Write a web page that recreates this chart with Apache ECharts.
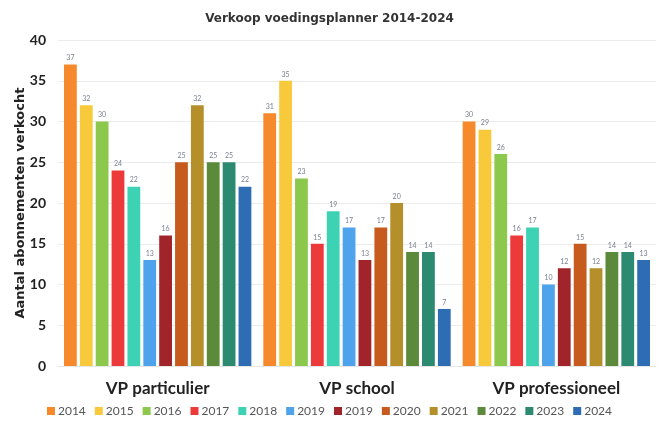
<!DOCTYPE html>
<html>
<head>
<meta charset="utf-8">
<script src="https://cdn.jsdelivr.net/npm/echarts@6/dist/echarts.min.js"></script>
<style>
  html, body { margin: 0; padding: 0; background: #fff; }
  #chart { width: 659px; height: 426px; }
</style>
</head>
<body>
<div id="chart"></div>
<script>
// categorieen en jaren
var categories = ['VP particulier', 'VP school', 'VP professioneel'];
var years = ['2014', '2015', '2016', '2017', '2018', '2019', '2019', '2020', '2021', '2022', '2023', '2024'];

// aantallen per jaar (particulier, school, professioneel)
var v2014 = [37, 31, 30];
var v2015 = [32, 35, 29];
var v2016 = [30, 23, 26];
var v2017 = [24, 15, 16];
var v2018 = [22, 19, 17];
var v2019a = [13, 17, 10];
var v2019b = [16, 13, 12];
var v2020 = [25, 17, 15];
var v2021 = [32, 20, 12];
var v2022 = [25, 14, 14];
var v2023 = [25, 14, 14];
var v2024 = [22, 7, 13];

var yTicks = [0, 5, 10, 15, 20, 25, 30, 35, 40];

var colors = ['#F5892B', '#F8C93A', '#8CC84B', '#EC3A3A', '#3DD2B4', '#4FA2EC',
  '#A2242B', '#C65B1D', '#B58F2A', '#5B8A3B', '#2B8A70', '#2E6CB4'];

var values = [v2014, v2015, v2016, v2017, v2018, v2019a, v2019b, v2020, v2021, v2022, v2023, v2024];

var chart = echarts.init(document.getElementById('chart'));

// unieke reeksnamen, anders voegt de legende de twee keer 2019 samen
var names = years.map(function (y, i) { return y + '#' + i; });

var series = values.map(function (d, i) {
  return {
    name: names[i],
    type: 'bar',
    barGap: '24%',
    barCategoryGap: '6%',
    data: d,
    itemStyle: { color: colors[i] },
    label: {
      show: true,
      position: 'top',
      distance: 3,
      fontSize: 7,
      color: '#7a8090',
      fontFamily: 'Lato'
    }
  };
});

var option = {
  animation: false,
  title: {
    text: 'Verkoop voedingsplanner 2014-2024',
    left: 'center',
    top: 8,
    textStyle: { fontSize: 12, fontWeight: 'bold', color: '#333', fontFamily: 'DejaVu Sans' }
  },
  legend: {
    data: names,
    bottom: 4,
    left: 'center',
    itemWidth: 8,
    itemHeight: 8,
    itemGap: 9,
    icon: 'rect',
    formatter: function (n) { return n.split('#')[0]; },
    textStyle: { fontSize: 12, color: '#555', fontFamily: 'Lato', padding: [0, 0, 0, -2] }
  },
  grid: {
    left: 58,
    right: 3,
    top: 40,
    bottom: 60
  },
  xAxis: {
    type: 'category',
    data: categories,
    axisTick: { show: false },
    axisLine: { show: true, lineStyle: { color: '#e6e6e6' } },
    axisLabel: { fontSize: 17, fontWeight: 'bold', color: '#222', margin: 14, fontFamily: 'Lato' }
  },
  yAxis: {
    type: 'value',
    min: yTicks[0],
    max: yTicks[yTicks.length - 1],
    interval: 5,
    name: 'Aantal abonnementen verkocht',
    nameLocation: 'middle',
    nameGap: 31,
    nameMoveOverlap: false,
    nameTextStyle: { fontSize: 13, fontWeight: 'bold', color: '#222', fontFamily: 'DejaVu Sans' },
    axisLine: { show: false },
    axisTick: { show: false },
    axisLabel: { fontSize: 14, fontWeight: 'bold', color: '#222', margin: 12, fontFamily: 'Lato' },
    splitLine: { lineStyle: { color: '#ececec' } }
  },
  series: series
};

chart.setOption(option);
</script>
</body>
</html>
